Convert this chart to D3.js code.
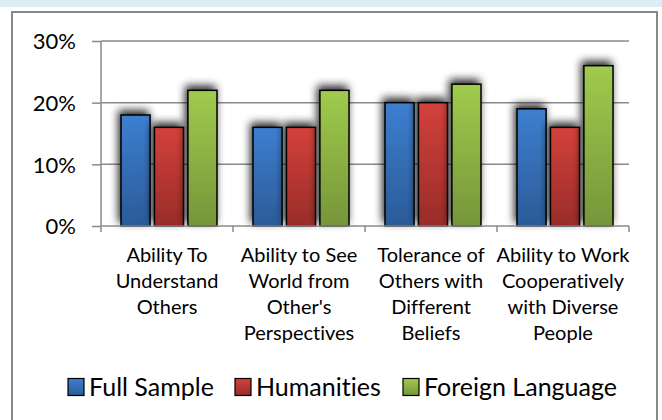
<!DOCTYPE html>
<html>
<head>
<meta charset="utf-8">
<script src="https://cdn.jsdelivr.net/npm/d3@7/dist/d3.min.js"></script>
<style>
  html, body { margin: 0; padding: 0; background: #fff; }
  svg { display: block; }
  text { font-family: Lato, "Open Sans", sans-serif; fill: #000; font-variant-ligatures: none; font-feature-settings: "liga" 0, "clig" 0; }
</style>
</head>
<body>
<svg id="chart" width="662" height="420"></svg>
<script>
// Survey outcomes by group (share of respondents)
const categories = [
  ["Ability To", "Understand", "Others"],
  ["Ability to See", "World from", "Other's", "Perspectives"],
  ["Tolerance of", "Others with", "Different", "Beliefs"],
  ["Ability to Work", "Cooperatively", "with Diverse", "People"]
];
const seriesNames = ["Full Sample", "Humanities", "Foreign Language"];
const fullSample = [18, 16, 20, 19];
const humanities = [16, 16, 20, 16];
const foreignLanguage = [22, 22, 23, 26];
const yTicks = [0, 10, 20, 30];

const seriesValues = [fullSample, humanities, foreignLanguage];
const gradientStops = [
  ["#3d7fd0", "#2b5b98"],
  ["#d4413b", "#982c29"],
  ["#a0cb4d", "#76953a"]
];

const svg = d3.select("#chart");
const defs = svg.append("defs");

// vertical gradients for each series
gradientStops.forEach((stops, i) => {
  const g = defs.append("linearGradient")
    .attr("id", "grad" + i)
    .attr("x1", 0).attr("y1", 0).attr("x2", 0).attr("y2", 1);
  g.append("stop").attr("offset", "0%").attr("stop-color", stops[0]);
  g.append("stop").attr("offset", "100%").attr("stop-color", stops[1]);
});

// soft outer shadow behind the bars
const f = defs.append("filter").attr("id", "shadow")
  .attr("x", "-50%").attr("y", "-25%").attr("width", "200%").attr("height", "150%");
f.append("feGaussianBlur").attr("in", "SourceAlpha").attr("stdDeviation", 4).attr("result", "b");
f.append("feOffset").attr("in", "b").attr("dx", -2).attr("dy", -4).attr("result", "o");
f.append("feComponentTransfer").attr("in", "o").attr("result", "s")
  .append("feFuncA").attr("type", "linear").attr("slope", 0.85);
const m = f.append("feMerge");
m.append("feMergeNode").attr("in", "s");
m.append("feMergeNode").attr("in", "SourceGraphic");

// header strip and chart frame
svg.append("rect").attr("x", 0).attr("y", 0).attr("width", 662).attr("height", 7)
  .attr("fill", "#dbeef4");
svg.append("rect").attr("x", 12).attr("y", 12).attr("width", 645).attr("height", 430)
  .attr("fill", "#fff").attr("stroke", "#898989").attr("stroke-width", 2);

const plot = { left: 101, right: 629, top: 41, bottom: 226 };

const y = d3.scaleLinear().domain([0, 30]).range([plot.bottom, plot.top]);
const x = d3.scaleBand().domain(d3.range(categories.length))
  .range([plot.left, plot.right]).paddingInner(0).paddingOuter(0);
const xs = d3.scaleBand().domain(d3.range(seriesNames.length))
  .range([x.bandwidth() / 2 - 46, x.bandwidth() / 2 + 50]).paddingInner(0.13).paddingOuter(0);

// gridlines
svg.append("g").selectAll("line").data(yTicks.filter(d => d > 0)).join("line")
  .attr("x1", plot.left).attr("x2", plot.right)
  .attr("y1", d => y(d)).attr("y2", d => y(d))
  .attr("stroke", "#8a8a8a").attr("stroke-width", 1.5);

// y axis
const yAxis = svg.append("g").attr("transform", `translate(${plot.left},0)`)
  .call(d3.axisLeft(y).tickValues(yTicks).tickFormat(d => d + "%").tickSize(9).tickPadding(16));
yAxis.select(".domain").attr("stroke", "#8a8a8a").attr("stroke-width", 1.5)
  .attr("d", `M0,${plot.top}V${plot.bottom}`);
yAxis.selectAll(".tick line").attr("stroke", "#8a8a8a").attr("stroke-width", 1.5);
yAxis.selectAll(".tick text").style("font-size", "22px").attr("dy", "0.35em");

// bars
const groups = svg.append("g").selectAll("g").data(categories).join("g")
  .attr("transform", (d, i) => `translate(${x(i)},0)`);
groups.selectAll("rect").data((d, i) => seriesValues.map((vals, s) => ({ s, v: vals[i] })))
  .join("rect")
  .attr("x", d => xs(d.s))
  .attr("width", xs.bandwidth())
  .attr("y", d => y(d.v))
  .attr("height", d => y(0) - y(d.v))
  .attr("fill", d => `url(#grad${d.s})`)
  .attr("stroke", "#000").attr("stroke-width", 1.5)
  .attr("filter", "url(#shadow)");

// x axis with ticks at category boundaries
const xAxis = svg.append("g");
xAxis.append("line").attr("x1", plot.left).attr("x2", plot.right)
  .attr("y1", plot.bottom).attr("y2", plot.bottom)
  .attr("stroke", "#8a8a8a").attr("stroke-width", 1.5);
xAxis.selectAll("line.tick").data(d3.range(categories.length + 1)).join("line")
  .attr("class", "tick")
  .attr("x1", i => i < categories.length ? x(i) : x(i - 1) + x.bandwidth())
  .attr("x2", i => i < categories.length ? x(i) : x(i - 1) + x.bandwidth())
  .attr("y1", plot.bottom).attr("y2", plot.bottom + 6)
  .attr("stroke", "#8a8a8a").attr("stroke-width", 1.5);

// category labels
const labels = svg.append("g").selectAll("text").data(categories).join("text")
  .attr("text-anchor", "middle")
  .style("font-size", "20px")
  .attr("transform", (d, i) => `translate(${x(i) + x.bandwidth() / 2},${plot.bottom + 29})`);
labels.selectAll("tspan").data(d => d).join("tspan")
  .attr("x", 0).attr("y", (d, j) => j * 26).attr("dy", "0.35em")
  .text(d => d);

// legend
const legendX = [68, 235, 403];
const lg = svg.append("g").selectAll("g").data(seriesNames).join("g")
  .attr("transform", (d, i) => `translate(${legendX[i]},387)`);
lg.append("rect").attr("x", 0).attr("y", -8.5).attr("width", 16).attr("height", 17)
  .attr("fill", (d, i) => `url(#grad${i})`).attr("stroke", "#000").attr("stroke-width", 1.2);
lg.append("text").attr("x", 21).attr("dy", "0.36em").style("font-size", "25px").text(d => d);
</script>
</body>
</html>
